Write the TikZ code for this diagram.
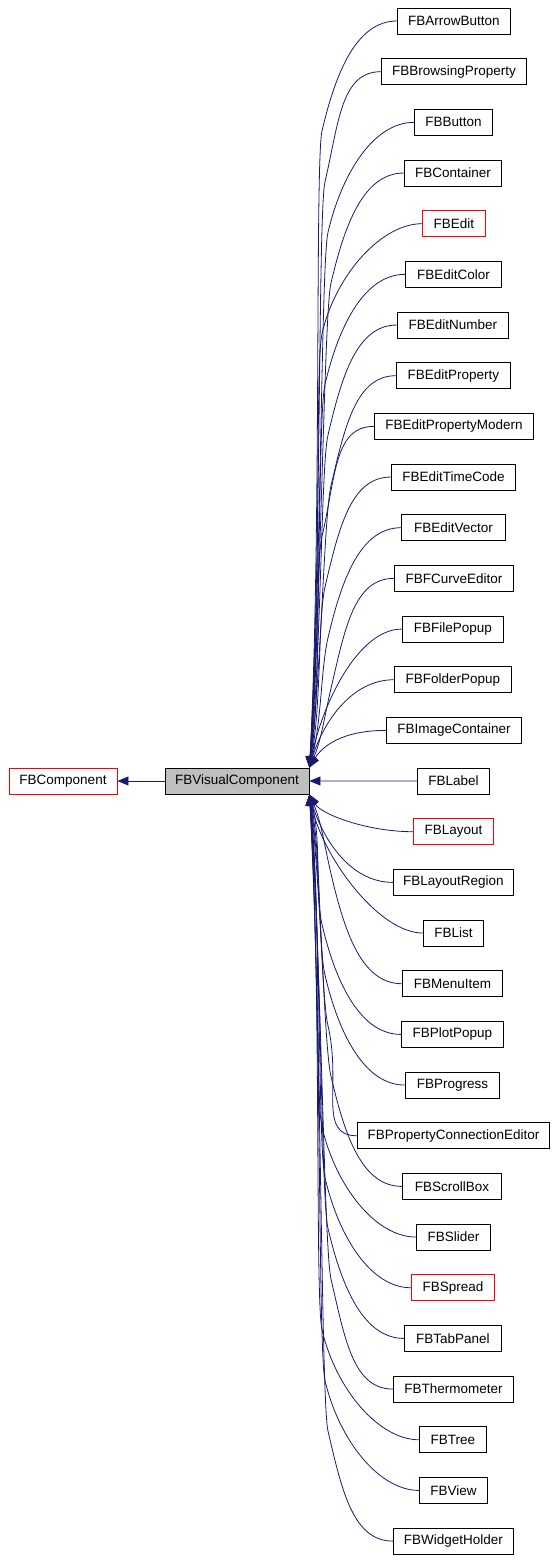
\documentclass[tikz,border=0pt]{standalone}
\usepackage{fontspec}
\setmainfont{Liberation Sans}
\usetikzlibrary{arrows.meta}
\definecolor{edgeblue}{HTML}{191970}
\definecolor{boxgray}{HTML}{BFBFBF}
\begin{document}
\begin{tikzpicture}[x=1pt,y=-1pt,
  box/.style={draw=black,line width=0.9pt,minimum height=26pt,inner sep=0pt,font=\fontsize{13.5}{16}\selectfont},
  edge/.style={draw=edgeblue,line width=0.8pt,-{Triangle[length=11pt,width=9pt]}}]
\useasboundingbox (0,0) rectangle (556,1562);
\node[box,draw=red,minimum width=108pt] (FBComponent) at (63,781) {FBComponent};
\node[box,fill=boxgray,minimum width=144pt] (FBVisualComponent) at (237,781) {FBVisualComponent};
\draw[edge] (FBVisualComponent) -- (FBComponent);
\foreach \n/\l/\w/\c [count=\i from 0] in {
  FBArrowButton/397/113/black,
  FBBrowsingProperty/381/145/black,
  FBButton/414/78/black,
  FBContainer/404/97/black,
  FBEdit/422/63/red,
  FBEditColor/405/96/black,
  FBEditNumber/397/111/black,
  FBEditProperty/396/114/black,
  FBEditPropertyModern/374/159/black,
  FBEditTimeCode/391/124/black,
  FBEditVector/401/104/black,
  FBFCurveEditor/394/119/black,
  FBFilePopup/402/101/black,
  FBFolderPopup/394/117/black,
  FBImageContainer/386/135/black,
  FBLabel/417/72/black,
  FBLayout/413/80/red,
  FBLayoutRegion/393/120/black,
  FBList/423/60/black,
  FBMenuItem/402/100/black,
  FBPlotPopup/401/102/black,
  FBProgress/405/94/black,
  FBPropertyConnectionEditor/357/192/black,
  FBScrollBox/402/99/black,
  FBSlider/416/74/black,
  FBSpread/411/83/red,
  FBTabPanel/404/97/black,
  FBThermometer/393/120/black,
  FBTree/419/67/black,
  FBView/419/68/black,
  FBWidgetHolder/393/120/black}{
  \pgfmathsetmacro\yy{21+\i*50.67}
  \pgfmathsetmacro\d{abs(781-\yy)-13}
  \pgfmathsetmacro\k{0.4*(\d+13)}
  \pgfmathsetmacro\vx{322+mod(\i,4)*3}
  \node[box,draw=\c,minimum width=\w pt,anchor=west] (\n) at (\l,\yy) {\n};
  \ifnum\i<15
    \ifdim\d pt>170pt
      \pgfmathsetmacro\qy{\yy+110}
      \pgfmathsetmacro\cy{\yy+50}
      \pgfmathsetmacro\rr{0.35*(\d-110)}
      \draw[edge] (\n.west) .. controls +(-40,0) and (\vx+14,\cy) .. (\vx,\qy)
        .. controls +(-7,30) and +(12,-\rr) .. (FBVisualComponent.north east);
    \else
      \draw[edge] (\n.west) .. controls +(-45,0) and +(12,-\k) .. (FBVisualComponent.north east);
    \fi
  \else\ifnum\i=15
    \draw[edge] (\n.west) -- (FBVisualComponent.east);
  \else
    \ifdim\d pt>170pt
      \pgfmathsetmacro\qy{\yy-110}
      \pgfmathsetmacro\cy{\yy-50}
      \pgfmathsetmacro\rr{0.35*(\d-110)}
      \draw[edge] (\n.west) .. controls +(-40,0) and (\vx+14,\cy) .. (\vx,\qy)
        .. controls +(-7,-30) and +(12,\rr) .. (FBVisualComponent.south east);
    \else
      \draw[edge] (\n.west) .. controls +(-45,0) and +(12,\k) .. (FBVisualComponent.south east);
    \fi
  \fi\fi
}
\end{tikzpicture}
\end{document}
